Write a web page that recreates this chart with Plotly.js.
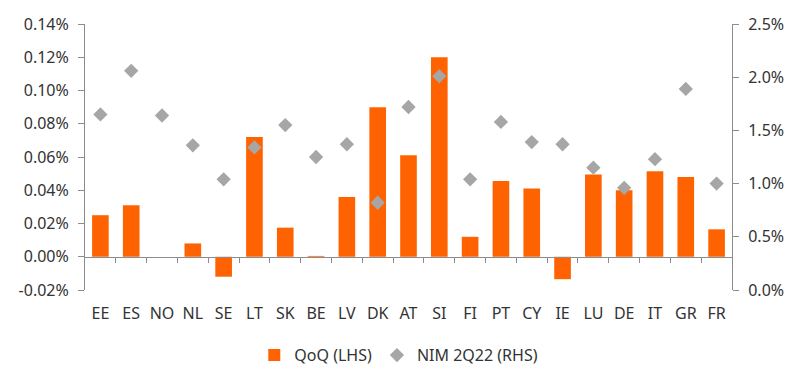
<!DOCTYPE html>
<html>
<head>
<meta charset="utf-8">
<script src="https://cdn.plot.ly/plotly-3.0.1.min.js"></script>
<style>html,body{margin:0;padding:0;background:#fff;}#chart{width:800px;height:386px;}</style>
</head>
<body>
<div id="chart"></div>
<script>
const countries = ["EE","ES","NO","NL","SE","LT","SK","BE","LV","DK","AT","SI","FI","PT","CY","IE","LU","DE","IT","GR","FR"];
const qoq = [0.025,0.031,0.0,0.008,-0.012,0.072,0.0175,0.0005,0.036,0.090,0.061,0.120,0.012,0.0455,0.041,-0.0135,0.0495,0.040,0.0515,0.048,0.0165];
const nim = [1.65,2.06,1.64,1.36,1.04,1.34,1.55,1.25,1.37,0.82,1.72,2.01,1.04,1.58,1.39,1.37,1.15,0.96,1.23,1.89,1.00];
const leftTickVals = [-0.02,0,0.02,0.04,0.06,0.08,0.10,0.12,0.14];
const leftTickText = ["-0.02%","0.00%","0.02%","0.04%","0.06%","0.08%","0.10%","0.12%","0.14%"];
const rightTickVals = [0,0.5,1.0,1.5,2.0,2.5];
const rightTickText = ["0.0%","0.5%","1.0%","1.5%","2.0%","2.5%"];
const boundaryIdx = countries.slice(0,-1).map((c,i)=>i+0.5);

const font = "Noto Sans, Open Sans, sans-serif";
const axisColor = "#8c8c8c";
const textColor = "#333333";

const traces = [
  {type:"bar", x:countries, y:qoq, name:"QoQ (LHS)", marker:{color:"#FF6200"}, yaxis:"y", xaxis:"x"},
  {type:"scatter", mode:"markers", x:countries, y:nim, name:"NIM 2Q22 (RHS)", marker:{symbol:"diamond", color:"#A6A6A6", size:11}, yaxis:"y2", xaxis:"x"},
  {type:"scatter", mode:"markers", x:[0], y:[0], xaxis:"x2", yaxis:"y", marker:{opacity:0}, showlegend:false, hoverinfo:"skip"}
];

const zeroPos = (0 - (-0.02)) / (0.14 - (-0.02));

const layout = {
  width:800, height:386,
  margin:{l:85, r:68, t:24, b:96},
  paper_bgcolor:"#fff", plot_bgcolor:"#fff",
  font:{family:font, size:16, color:textColor},
  bargap:0.46,
  showlegend:true,
  legend:{orientation:"h", x:0.485, xanchor:"center", y:-0.245, yanchor:"middle", font:{size:16, color:textColor}, itemwidth:30, tracegroupgap:0},
  xaxis:{type:"category", categoryorder:"array", categoryarray:countries, range:[-0.5,20.5], showline:false, ticks:"", showgrid:false, zeroline:false, tickfont:{size:16, color:textColor}, ticklabelstandoff:12, fixedrange:true},
  xaxis2:{overlaying:"x", anchor:"free", position:zeroPos, range:[-0.5,20.5], tickvals:boundaryIdx, ticks:"outside", ticklen:5, tickcolor:axisColor, showticklabels:false, showline:true, linecolor:axisColor, linewidth:1, showgrid:false, zeroline:false},
  yaxis:{range:[-0.02,0.14], tickvals:leftTickVals, ticktext:leftTickText, showline:true, linecolor:axisColor, linewidth:1, ticks:"outside", ticklen:6, tickcolor:axisColor, showgrid:false, zeroline:false, tickfont:{size:16, color:textColor}, ticklabelstandoff:6},
  yaxis2:{overlaying:"y", side:"right", range:[0,2.5], tickvals:rightTickVals, ticktext:rightTickText, showline:true, linecolor:axisColor, linewidth:1, ticks:"outside", ticklen:6, tickcolor:axisColor, showgrid:false, zeroline:false, tickfont:{size:16, color:textColor}, ticklabelstandoff:6}
};

Plotly.newPlot("chart", traces, layout, {staticPlot:true, displayModeBar:false});
</script>
</body>
</html>
